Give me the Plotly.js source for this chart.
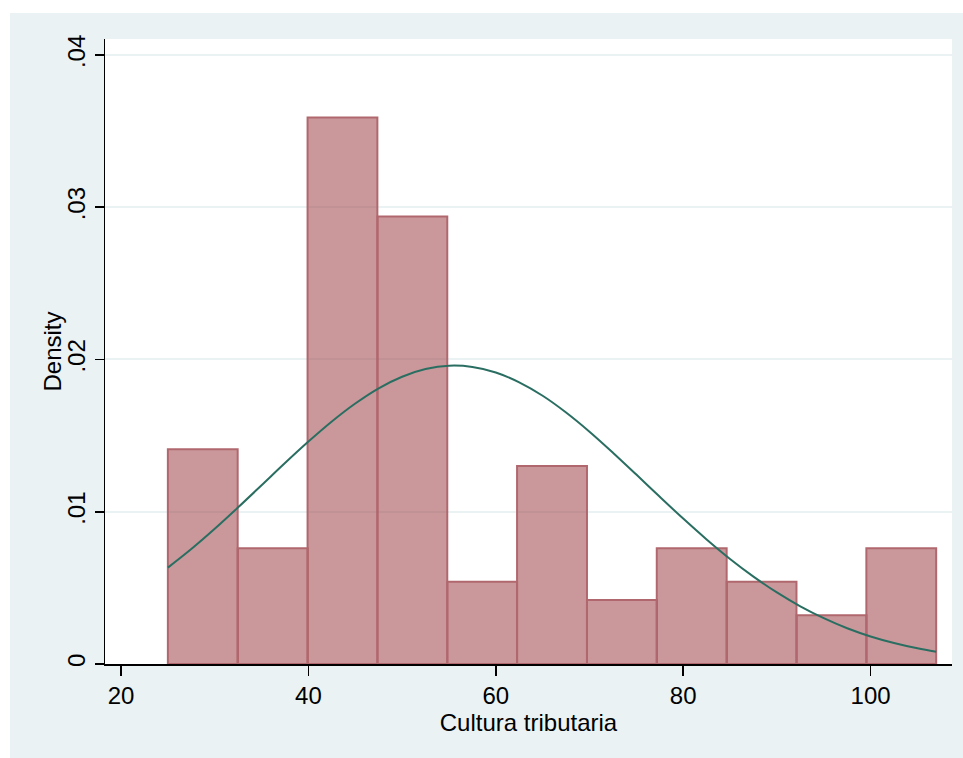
<!DOCTYPE html>
<html>
<head>
<meta charset="utf-8">
<script src="https://cdn.plot.ly/plotly-3.0.1.min.js"></script>
<style>
  html, body { margin: 0; padding: 0; background: #ffffff; width: 963px; height: 758px; overflow: hidden; }
  #chart { position: absolute; left: 10px; top: 13px; width: 953px; height: 745px; }
</style>
</head>
<body>
<div id="chart"></div>
<script>
// Histogram bin edges (Cultura tributaria)
const binEdges = [25, 32.45, 39.91, 47.36, 54.82, 62.27, 69.73, 77.18, 84.64, 92.09, 99.55, 107];
// Density of each bin
const densities = [0.0141, 0.0076, 0.0359, 0.0294, 0.0054, 0.0130, 0.0042, 0.0076, 0.0054, 0.0032, 0.0076];

// Normal density overlay
const curveX = [25, 27.5, 30, 32.5, 35, 37.5, 40, 42.5, 45, 47.5, 50, 52.5, 55, 57.5, 60, 62.5, 65, 67.5,
                70, 72.5, 75, 77.5, 80, 82.5, 85, 87.5, 90, 92.5, 95, 97.5, 100, 102.5, 105, 107];
const curveY = [0.00633, 0.00755, 0.00888, 0.01029, 0.01174, 0.01320, 0.01461, 0.01593, 0.01711, 0.01811,
                0.01887, 0.01937, 0.01959, 0.01951, 0.01915, 0.01850, 0.01762, 0.01652, 0.01526, 0.01388,
                0.01244, 0.01098, 0.00955, 0.00818, 0.00690, 0.00574, 0.00470, 0.00379, 0.00301, 0.00235,
                0.00181, 0.00138, 0.00103, 0.00081];

const xTickVals = [20, 40, 60, 80, 100];
const xTickText = ["20", "40", "60", "80", "100"];
const yTickVals = [0, 0.01, 0.02, 0.03, 0.04];
const yTickText = ["0", ".01", ".02", ".03", ".04"];

const xTitle = "Cultura tributaria";
const yTitle = "Density";

const centers = densities.map((_, i) => (binEdges[i] + binEdges[i + 1]) / 2);
const widths = densities.map((_, i) => binEdges[i + 1] - binEdges[i]);

const FONT = "'Liberation Sans', Arial, Helvetica, sans-serif";

const traces = [
  {
    type: 'bar',
    x: centers,
    y: densities,
    width: widths,
    marker: {
      color: 'rgba(150,50,56,0.5)',
      line: { color: 'rgb(176,104,110)', width: 2 }
    },
    hoverinfo: 'x+y',
    showlegend: false
  },
  {
    type: 'scatter',
    mode: 'lines',
    x: curveX,
    y: curveY,
    line: { color: 'rgb(42,110,98)', width: 2, shape: 'spline' },
    showlegend: false
  }
];

const layout = {
  width: 953,
  height: 745,
  margin: { l: 95, r: 11, t: 26, b: 94, pad: 0 },
  paper_bgcolor: '#eaf2f3',
  plot_bgcolor: '#ffffff',
  font: { family: FONT, size: 24, color: '#000000' },
  bargap: 0,
  showlegend: false,
  xaxis: {
    range: [18.29, 108.69],
    tickmode: 'array',
    tickvals: xTickVals,
    ticktext: xTickText,
    ticks: 'outside',
    ticklen: 10,
    tickwidth: 1.5,
    tickcolor: '#000000',
    showline: true,
    linecolor: '#000000',
    linewidth: 1.5,
    showgrid: false,
    zeroline: false,
    tickfont: { family: FONT, size: 24, color: '#000000' },
    title: { text: xTitle, font: { family: FONT, size: 24, color: '#000000' }, standoff: 2 },
    automargin: false
  },
  yaxis: {
    range: [0, 0.04105],
    tickmode: 'array',
    tickvals: yTickVals,
    ticktext: yTickText,
    tickangle: -90,
    ticks: 'outside',
    ticklen: 9,
    tickwidth: 1.5,
    tickcolor: '#000000',
    showline: true,
    linecolor: '#000000',
    linewidth: 1.5,
    showgrid: true,
    gridcolor: '#eaf2f3',
    gridwidth: 2,
    zeroline: false,
    tickfont: { family: FONT, size: 24, color: '#000000' },
    automargin: false
  },
  annotations: [
    {
      text: yTitle,
      xref: 'paper', yref: 'paper',
      x: 0, y: 0.5,
      xanchor: 'center', yanchor: 'middle',
      xshift: -53,
      textangle: -90,
      showarrow: false,
      font: { family: FONT, size: 24, color: '#000000' }
    }
  ]
};

Plotly.newPlot('chart', traces, layout, { displayModeBar: false, staticPlot: true });
</script>
</body>
</html>
